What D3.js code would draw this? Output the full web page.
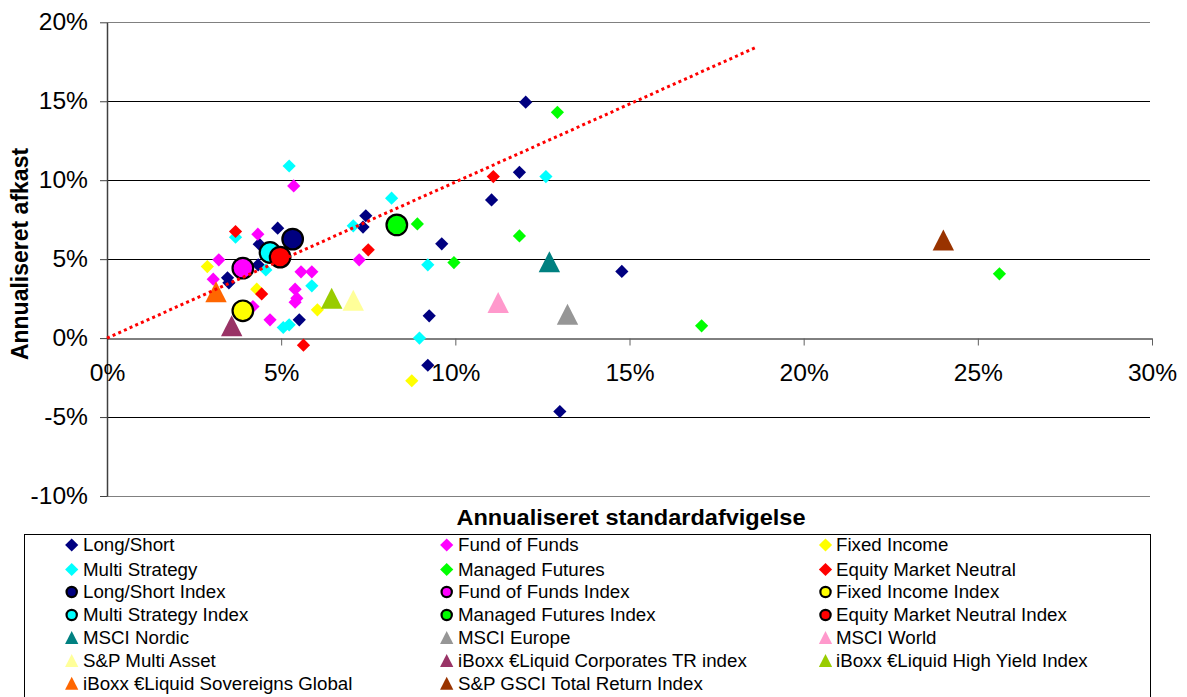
<!DOCTYPE html>
<html>
<head>
<meta charset="utf-8">
<script src="https://cdn.jsdelivr.net/npm/d3@7"></script>
<style>
  html, body { margin: 0; padding: 0; background: #fff; }
  svg { display: block; font-family: "Liberation Sans", Arial, sans-serif; }
</style>
</head>
<body>
<svg id="chart" width="1187" height="697"></svg>
<script>
// Annualised standard deviation (%) vs annualised return (%), pairs [x, y]
const longShort = [[12.02,14.94],[11.84,10.5],[11.04,8.75],[9.61,5.97],[14.78,4.22],[9.25,1.41],[9.21,-1.72],[13.0,-4.65],[7.43,7.75],[7.35,7.03],[4.9,6.96],[4.37,5.95],[4.34,4.64],[3.46,3.82],[3.5,3.5],[5.52,1.16]];
const fundOfFunds = [[5.36,9.64],[4.33,6.58],[3.21,4.96],[3.05,3.73],[5.57,4.2],[5.88,4.2],[5.4,3.1],[5.45,2.53],[5.4,2.27],[4.68,1.16],[4.19,2.0],[7.24,4.96]];
const fixedIncome = [[2.88,4.53],[4.3,3.1],[6.04,1.79],[8.75,-2.7]];
const multiStrategy = [[5.23,10.9],[3.69,6.39],[4.56,4.32],[5.88,3.31],[5.06,0.67],[5.23,0.84],[8.17,8.86],[7.07,7.11],[9.21,4.64],[8.97,0.0],[12.6,10.23]];
const managedFutures = [[12.93,14.3],[11.84,6.47],[9.96,4.78],[8.91,7.23],[25.62,4.07],[17.07,0.78]];
const equityMarketNeutral = [[3.69,6.75],[4.44,2.8],[5.64,-0.45],[7.5,5.59],[11.09,10.23]];
const longShortIndex = [[5.33,6.27]];
const fundOfFundsIndex = [[3.9,4.43]];
const fixedIncomeIndex = [[3.9,1.73]];
const multiStrategyIndex = [[4.68,5.42]];
const managedFuturesIndex = [[8.32,7.17]];
const equityMarketNeutralIndex = [[4.97,5.13]];
const msciNordic = [[12.7,4.84]];
const msciEurope = [[13.22,1.51]];
const msciWorld = [[11.23,2.26]];
const spMultiAsset = [[7.07,2.39]];
const iboxxCorporates = [[3.58,0.78]];
const iboxxHighYield = [[6.45,2.52]];
const iboxxSovereigns = [[3.13,2.93]];
const spGsci = [[24.01,6.22]];
// Dotted reference line
const trendLine = [[0,0],[18.66,18.44]];

const xTicks = [0,5,10,15,20,25,30];
const yTicks = [-10,-5,0,5,10,15,20];
const xTitle = "Annualiseret standardafvigelse";
const yTitle = "Annualiseret afkast";

// Series in legend order (row by row, three columns)
const series = [
  {name:"Long/Short", data:longShort, shape:"diamond", color:"#000080"},
  {name:"Fund of Funds", data:fundOfFunds, shape:"diamond", color:"#FF00FF"},
  {name:"Fixed Income", data:fixedIncome, shape:"diamond", color:"#FFFF00"},
  {name:"Multi Strategy", data:multiStrategy, shape:"diamond", color:"#00FFFF"},
  {name:"Managed Futures", data:managedFutures, shape:"diamond", color:"#00FF00"},
  {name:"Equity Market Neutral", data:equityMarketNeutral, shape:"diamond", color:"#FF0000"},
  {name:"Long/Short Index", data:longShortIndex, shape:"circle", color:"#000080"},
  {name:"Fund of Funds Index", data:fundOfFundsIndex, shape:"circle", color:"#FF00FF"},
  {name:"Fixed Income Index", data:fixedIncomeIndex, shape:"circle", color:"#FFFF00"},
  {name:"Multi Strategy Index", data:multiStrategyIndex, shape:"circle", color:"#00FFFF"},
  {name:"Managed Futures Index", data:managedFuturesIndex, shape:"circle", color:"#00FF00"},
  {name:"Equity Market Neutral Index", data:equityMarketNeutralIndex, shape:"circle", color:"#FF0000"},
  {name:"MSCI Nordic", data:msciNordic, shape:"triangle", color:"#008080"},
  {name:"MSCI Europe", data:msciEurope, shape:"triangle", color:"#969696"},
  {name:"MSCI World", data:msciWorld, shape:"triangle", color:"#FF99CC"},
  {name:"S&P Multi Asset", data:spMultiAsset, shape:"triangle", color:"#FFFF99"},
  {name:"iBoxx €Liquid Corporates TR index", data:iboxxCorporates, shape:"triangle", color:"#993366"},
  {name:"iBoxx €Liquid High Yield Index", data:iboxxHighYield, shape:"triangle", color:"#99CC00"},
  {name:"iBoxx €Liquid Sovereigns Global", data:iboxxSovereigns, shape:"triangle", color:"#FF6600"},
  {name:"S&P GSCI Total Return Index", data:spGsci, shape:"triangle", color:"#993300"}
];

const svg = d3.select("#chart");
const plot = {left:107, right:1152, top:22.3, bottom:496};
const x = d3.scaleLinear().domain([0,30]).range([plot.left, plot.right]);
const y = d3.scaleLinear().domain([-10,20]).range([plot.bottom, plot.top]);
const SX = 1.07; // horizontal glyph stretch

// Gridlines
svg.append("g").selectAll("line")
  .data(yTicks.filter(t => t !== 0))
  .join("line")
  .attr("x1", plot.left).attr("x2", plot.right - 2)
  .attr("y1", d => Math.round(y(d)) + 0.5).attr("y2", d => Math.round(y(d)) + 0.5)
  .attr("stroke", d => (d === 20 || d === -10) ? "#808080" : "#000")
  .attr("stroke-width", 1);

// Y axis
const yAxis = svg.append("g")
  .attr("transform", `translate(${plot.left},0)`)
  .call(d3.axisLeft(y).tickValues(yTicks).tickFormat(d => d + "%").tickSizeInner(7).tickSizeOuter(0).tickPadding(10.8));
yAxis.select(".domain").attr("stroke", "#404040").attr("stroke-width", 1.5);
yAxis.selectAll(".tick line").attr("stroke", "#404040");
yAxis.selectAll(".tick text")
  .attr("font-size", 23).attr("fill", "#000")
  .attr("font-family", "Liberation Sans, Arial, sans-serif")
  .attr("transform", `scale(${SX},1)`);

// X axis along zero return
const xAxis = svg.append("g")
  .attr("transform", `translate(0,${Math.round(y(0)) + 0.5})`)
  .call(d3.axisBottom(x).tickValues(xTicks).tickFormat(d => d + "%").tickSizeInner(7).tickSizeOuter(0).tickPadding(19.5));
xAxis.select(".domain").attr("stroke", "#000").attr("stroke-width", 1);
xAxis.selectAll(".tick line").attr("stroke", "#606060").filter(d => d === 0).remove();
xAxis.selectAll(".tick text")
  .attr("font-size", 23).attr("fill", "#000")
  .attr("font-family", "Liberation Sans, Arial, sans-serif")
  .attr("transform", `scale(${SX},1)`);

// Marker shapes
const DIAMOND = 6.6, CIRCLE = 10.3, TRI_W = 10.7, TRI_H = 21;
function drawMarker(g, shape, color, cx, cy, scale) {
  const k = scale || 1;
  if (shape === "diamond") {
    const r = DIAMOND * k;
    g.append("path")
      .attr("d", `M${cx},${cy - r}L${cx + r},${cy}L${cx},${cy + r}L${cx - r},${cy}Z`)
      .attr("fill", color);
  } else if (shape === "circle") {
    g.append("circle").attr("cx", cx).attr("cy", cy).attr("r", CIRCLE * k)
      .attr("fill", color).attr("stroke", "#000").attr("stroke-width", 2.2);
  } else {
    const w = TRI_W * k, h = TRI_H * k;
    g.append("path")
      .attr("d", `M${cx},${cy - h / 2}L${cx + w},${cy + h / 2}L${cx - w},${cy + h / 2}Z`)
      .attr("fill", color);
  }
}

// Points
const marks = svg.append("g");
series.forEach(s => {
  const g = marks.append("g").attr("class", "series");
  s.data.forEach(p => drawMarker(g, s.shape, s.color, x(p[0]), y(p[1])));
});

// Dotted line from the origin
svg.append("path")
  .datum(trendLine)
  .attr("d", d3.line().x(d => x(d[0])).y(d => y(d[1])))
  .attr("fill", "none")
  .attr("stroke", "#FF0000")
  .attr("stroke-width", 3)
  .attr("stroke-dasharray", "3,3.2");

// Axis titles
svg.append("text")
  .attr("transform", `translate(631,525) scale(${SX},1)`)
  .attr("text-anchor", "middle")
  .attr("font-size", 22).attr("font-weight", "bold")
  .text(xTitle);
svg.append("text")
  .attr("transform", "translate(28,254) rotate(-90)")
  .attr("text-anchor", "middle")
  .attr("font-size", 23).attr("font-weight", "bold")
  .text(yTitle);

// Legend
const legend = svg.append("g");
legend.append("rect")
  .attr("x", 24.5).attr("y", 534.5).attr("width", 1126).attr("height", 180)
  .attr("fill", "none").attr("stroke", "#000").attr("stroke-width", 1);
const colMarker = [71.7, 446.7, 825.5];
const colText = [83, 458, 836];
const rowY = [545, 569.5, 592, 615, 637.5, 660.5, 683.3];
series.forEach((s, i) => {
  const c = i % 3, r = Math.floor(i / 3);
  drawMarker(legend, s.shape, s.color, colMarker[c], rowY[r], s.shape === "triangle" ? 0.62 : (s.shape === "circle" ? 0.5 : 1));
  legend.append("text")
    .attr("transform", `translate(${colText[c]},${rowY[r] + 6.3}) scale(${SX},1)`)
    .attr("font-size", 17.5)
    .text(s.name);
});
</script>
</body>
</html>
